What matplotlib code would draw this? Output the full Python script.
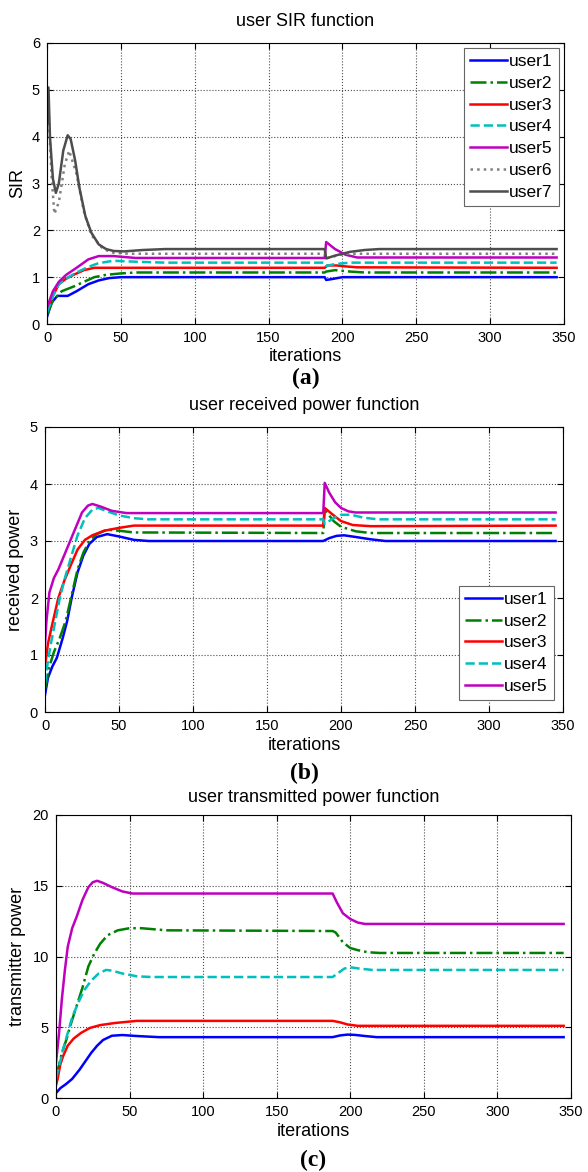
import matplotlib
matplotlib.use("Agg")
import matplotlib.pyplot as plt

plt.rcParams["font.family"] = "Liberation Sans"
plt.rcParams.update({"font.size": 10})

W, H = 588, 1172

### data (iteration, value) per user

# (a) SIR
sir_x = {
    "user1": [0, 3, 7, 14, 20, 28, 35, 42, 50, 60, 188, 189, 193, 200, 345],
    "user2": [0, 4, 10, 18, 25, 32, 40, 50, 60, 188, 189, 195, 205, 215, 345],
    "user3": [0, 4, 8, 13, 18, 25, 32, 40, 188, 190, 196, 202, 210, 345],
    "user4": [0, 4, 8, 13, 20, 28, 35, 45, 60, 80, 188, 189, 195, 205, 345],
    "user5": [0, 4, 8, 13, 20, 28, 35, 45, 60, 188, 189, 195, 202, 210, 345],
    "user6": [0, 1, 3, 5, 8, 12, 15, 20, 25, 30, 38, 45, 55, 188, 189, 195, 202, 345],
    "user7": [0, 1, 2, 4, 6, 8, 11, 14, 16, 19, 22, 26, 30, 35, 40, 45, 52, 65, 80,
              188, 189, 195, 205, 215, 225, 345],
}
sir_y = {
    "user1": [0.15, 0.45, 0.6, 0.6, 0.7, 0.85, 0.93, 0.98, 1.0, 1.0, 1.0, 0.94, 0.96, 1.0, 1.0],
    "user2": [0.2, 0.5, 0.7, 0.8, 0.9, 1.0, 1.05, 1.08, 1.1, 1.1, 1.12, 1.15, 1.12, 1.1, 1.1],
    "user3": [0.3, 0.6, 0.85, 0.97, 1.05, 1.15, 1.2, 1.2, 1.2, 1.25, 1.25, 1.23, 1.21, 1.2],
    "user4": [0.25, 0.6, 0.85, 0.97, 1.1, 1.22, 1.3, 1.35, 1.33, 1.31, 1.31, 1.24, 1.28, 1.31, 1.31],
    "user5": [0.35, 0.7, 0.9, 1.05, 1.2, 1.38, 1.45, 1.45, 1.41, 1.41, 1.75, 1.6, 1.48, 1.42, 1.42],
    "user6": [5.0, 4.6, 3.2, 2.35, 2.6, 3.4, 3.7, 3.2, 2.4, 1.9, 1.6, 1.52, 1.5, 1.5, 1.4, 1.45, 1.5, 1.5],
    "user7": [4.3, 5.05, 4.0, 3.1, 2.8, 3.0, 3.7, 4.03, 3.95, 3.5, 2.9, 2.3, 1.95, 1.7, 1.6, 1.56,
              1.55, 1.58, 1.6, 1.6, 1.4, 1.46, 1.54, 1.58, 1.6, 1.6],
}

# (b) received power
rx_x = {
    "user1": [0, 2, 5, 8, 12, 15, 18, 22, 26, 30, 35, 42, 50, 60, 70, 188, 192, 197, 202, 210, 220, 230, 345],
    "user2": [0, 3, 6, 10, 14, 18, 22, 26, 30, 35, 42, 50, 60, 188, 189, 195, 200, 210, 220, 345],
    "user3": [0, 2, 5, 9, 13, 17, 22, 27, 32, 40, 50, 60, 188, 189, 195, 200, 208, 220, 345],
    "user4": [0, 2, 4, 7, 10, 14, 18, 22, 27, 32, 36, 42, 50, 60, 70, 188, 189, 195, 200, 207, 215, 225, 345],
    "user5": [0, 1, 3, 6, 9, 13, 17, 21, 25, 29, 32, 38, 45, 55, 188, 189, 192, 196, 200, 205, 210, 345],
}
rx_y = {
    "user1": [0.3, 0.6, 0.8, 0.95, 1.3, 1.6, 2.0, 2.45, 2.75, 2.95, 3.07, 3.12, 3.08, 3.02, 3.0,
              3.0, 3.05, 3.09, 3.1, 3.07, 3.03, 3.0, 3.0],
    "user2": [0.4, 0.8, 1.05, 1.3, 1.6, 2.05, 2.5, 2.8, 3.0, 3.12, 3.2, 3.18, 3.15, 3.14, 3.55,
              3.35, 3.25, 3.17, 3.14, 3.14],
    "user3": [0.8, 1.2, 1.55, 2.0, 2.3, 2.55, 2.85, 3.02, 3.1, 3.18, 3.23, 3.27, 3.27, 3.58,
              3.45, 3.35, 3.28, 3.26, 3.27],
    "user4": [0.5, 0.9, 1.2, 1.6, 2.0, 2.4, 2.75, 3.1, 3.4, 3.55, 3.58, 3.52, 3.45, 3.4, 3.38,
              3.38, 3.3, 3.4, 3.46, 3.46, 3.41, 3.38, 3.38],
    "user5": [1.2, 1.6, 2.1, 2.35, 2.5, 2.75, 3.0, 3.25, 3.5, 3.62, 3.65, 3.6, 3.53, 3.49, 3.49,
              4.02, 3.85, 3.68, 3.58, 3.52, 3.5, 3.5],
}

# (c) transmitted power
tx_x = {
    "user1": [0, 3, 7, 11, 16, 20, 24, 28, 32, 38, 45, 55, 70, 188, 193, 198, 203, 210, 218, 345],
    "user2": [0, 2, 4, 7, 10, 14, 18, 22, 26, 30, 35, 42, 50, 58, 75, 188, 190, 195, 200, 205, 212, 220, 345],
    "user3": [0, 1, 3, 5, 8, 12, 17, 23, 30, 40, 55, 188, 193, 198, 205, 345],
    "user4": [0, 2, 5, 8, 11, 15, 19, 24, 29, 34, 38, 45, 55, 65, 188, 192, 196, 200, 206, 215, 345],
    "user5": [0, 2, 4, 6, 8, 11, 14, 18, 22, 25, 28, 32, 38, 45, 52, 60, 188, 191, 195, 200, 205, 210, 345],
}
tx_y = {
    "user1": [0.35, 0.7, 1.0, 1.35, 2.0, 2.6, 3.2, 3.7, 4.1, 4.4, 4.45, 4.38, 4.3, 4.3, 4.42, 4.48,
              4.46, 4.38, 4.3, 4.3],
    "user2": [1.5, 2.3, 3.2, 4.1, 5.2, 6.5, 7.8, 9.3, 10.2, 10.9, 11.5, 11.85, 12.0, 12.0, 11.85,
              11.8, 11.7, 11.0, 10.6, 10.45, 10.3, 10.25, 10.25],
    "user3": [0.9, 1.3, 2.4, 3.0, 3.7, 4.2, 4.6, 4.95, 5.15, 5.3, 5.45, 5.45, 5.35, 5.2, 5.1, 5.1],
    "user4": [1.4, 2.2, 3.5, 4.6, 5.7, 6.7, 7.6, 8.3, 8.8, 9.05, 9.0, 8.8, 8.6, 8.55, 8.55, 8.85,
              9.15, 9.24, 9.15, 9.05, 9.05],
    "user5": [2.5, 4.5, 7.0, 9.0, 10.7, 12.0, 12.8, 14.0, 14.9, 15.25, 15.35, 15.2, 14.9, 14.6,
              14.45, 14.45, 14.45, 13.8, 13.05, 12.65, 12.4, 12.3, 12.3],
}

styles = {
    "user1": dict(color=(0, 0, 1), linestyle="-"),
    "user2": dict(color=(0, 0.5, 0), linestyle="-."),
    "user3": dict(color=(1, 0, 0), linestyle="-"),
    "user4": dict(color=(0, 0.75, 0.75), linestyle="--"),
    "user5": dict(color=(0.75, 0, 0.75), linestyle="-"),
    "user6": dict(color=(0.5, 0.5, 0.5), linestyle=":"),
    "user7": dict(color=(0.3, 0.3, 0.3), linestyle="-"),
}

### layout (pixel boxes: left, right, top, bottom)
panels = [
    dict(box=(47, 564, 43, 324), xs=sir_x, ys=sir_y, ymax=6, ystep=1,
         title="user SIR function", title_y=22, ylabel="SIR", ylab_x=18,
         xlab_y=357, tag="(a)", tag_y=378,
         leg=dict(loc="upper right", anchor=(559, 48))),
    dict(box=(45, 563, 427, 712), xs=rx_x, ys=rx_y, ymax=5, ystep=1,
         title="user received power function", title_y=405, ylabel="received power", ylab_x=16,
         xlab_y=745, tag="(b)", tag_y=773,
         leg=dict(loc="lower right", anchor=(554, 700))),
    dict(box=(56, 571, 815, 1098), xs=tx_x, ys=tx_y, ymax=20, ystep=5,
         title="user transmitted power function", title_y=798, ylabel="transmitter power", ylab_x=18,
         xlab_y=1132, tag="(c)", tag_y=1160, leg=None),
]

fig = plt.figure(figsize=(W / 100, H / 100), dpi=100)

for p in panels:
    l, r, t, b = p["box"]
    ax = fig.add_axes([l / W, 1 - b / H, (r - l) / W, (b - t) / H])
    for name in p["xs"]:
        ax.plot(p["xs"][name], p["ys"][name], label=name, linewidth=1.8, **styles[name])
    ax.set_xlim(0, 350)
    ax.set_ylim(0, p["ymax"])
    ax.set_xticks(range(0, 351, 50))
    ax.set_yticks(range(0, p["ymax"] + 1, p["ystep"]))
    ax.tick_params(direction="in", top=True, right=True, length=4, width=0.8,
                   labelsize=10.5, pad=5)
    ax.grid(True, linestyle=":", color="0.3", linewidth=0.8)
    for s in ax.spines.values():
        s.set_linewidth(0.8)
    cx = (l + r) / 2 / W
    fig.text(cx, 1 - p["title_y"] / H, p["title"], ha="center", va="center", fontsize=13)
    fig.text(cx, 1 - p["xlab_y"] / H, "iterations", ha="center", va="center", fontsize=13)
    fig.text(p["ylab_x"] / W, 1 - (t + b) / 2 / H, p["ylabel"], rotation=90,
             ha="center", va="center", fontsize=13)
    fig.text(cx, 1 - p["tag_y"] / H, p["tag"], ha="center", va="center", fontsize=17,
             fontweight="bold", family="Liberation Serif")
    if p["leg"]:
        ax_ = p["leg"]["anchor"]
        bx = (ax_[0] - l) / (r - l)
        by = (b - ax_[1]) / (b - t)
        leg = ax.legend(loc=p["leg"]["loc"], bbox_to_anchor=(bx, by), borderaxespad=0,
                        fontsize=12.5, handlelength=2.1, handletextpad=0.15,
                        labelspacing=0.38, fancybox=False, framealpha=1,
                        borderpad=0.35)
        leg.get_frame().set_edgecolor("0.4")
        leg.get_frame().set_linewidth(0.8)

fig.savefig("out.png", dpi=100)
